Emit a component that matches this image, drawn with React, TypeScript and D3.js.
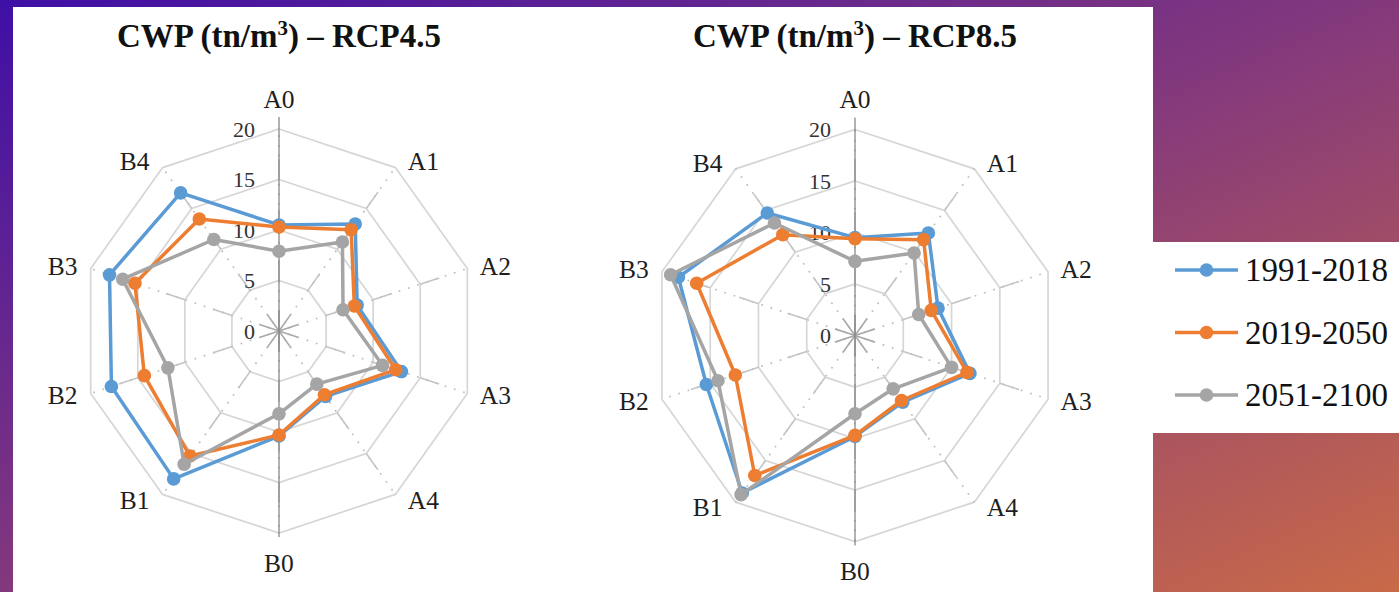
import React from "react";
import * as d3 from "d3";

const categories = ["A0", "A1", "A2", "A3", "A4", "B0", "B1", "B2", "B3", "B4"];
const seriesNames = ["1991-2018", "2019-2050", "2051-2100"];
const seriesColors = ["#5B9BD5", "#ED7D31", "#A5A5A5"];
const tickValues = [0, 5, 10, 15, 20];

const rcp45_1991 = [10.5, 13.1, 8.3, 13.0, 8.0, 10.4, 18.1, 17.8, 18.0, 16.9];
const rcp45_2019 = [10.3, 12.4, 8.0, 12.4, 7.8, 10.3, 15.3, 14.3, 15.3, 13.7];
const rcp45_2051 = [7.9, 10.9, 6.8, 11.0, 6.5, 8.2, 16.3, 11.8, 16.6, 11.2];

const rcp85_1991 = [9.5, 12.3, 8.6, 11.9, 8.0, 9.8, 18.9, 15.4, 18.3, 14.7];
const rcp85_2019 = [9.4, 11.5, 7.9, 11.6, 7.8, 9.7, 16.8, 12.4, 16.4, 12.1];
const rcp85_2051 = [7.2, 9.9, 6.6, 10.0, 6.4, 7.6, 19.1, 14.2, 19.1, 13.5];

const W = 1399;
const H = 592;
const FONT = "'Liberation Serif', 'Times New Roman', serif";

type Cfg = { cx: number; cy: number; rx: number; ry: number; title: string; data: number[][] };

function Radar({ cfg }: { cfg: Cfg }) {
  const { cx, cy, rx, ry } = cfg;
  const r = d3.scaleLinear().domain([0, 20]).range([0, 1]);
  const ang = d3.scaleLinear().domain([0, categories.length]).range([0, 2 * Math.PI]);
  const pt = (v: number, i: number): [number, number] => [
    cx + rx * r(v) * Math.sin(ang(i)),
    cy - ry * r(v) * Math.cos(ang(i)),
  ];
  const closed = d3.line().curve(d3.curveLinearClosed);
  const seg = d3.line();

  return (
    <g>
      <text x={cx} y={47} textAnchor="middle" fontFamily={FONT} fontWeight="bold" fontSize={33} fill="#111">
        CWP (tn/m
        <tspan fontSize={21} dy={-12}>3</tspan>
        <tspan dy={12}>) – {cfg.title}</tspan>
      </text>
      {tickValues.slice(1).map((t) => (
        <path
          key={"ring" + t}
          d={closed(categories.map((_, i) => pt(t, i))) || ""}
          fill="none"
          stroke="#d6d6d6"
          strokeWidth={1.7}
        />
      ))}
      {categories.map((_, i) => (
        <path
          key={"sp" + i}
          d={seg([pt(0, i), pt(20, i)]) || ""}
          stroke="#bdbdbd"
          strokeWidth={1.7}
          strokeDasharray="1.7 8"
          fill="none"
        />
      ))}
      {categories.map((_, i) =>
        tickValues.slice(0, 4).map((t) => (
          <path
            key={"ss" + i + "-" + t}
            d={seg([pt(t, i), pt(t + 2, i)]) || ""}
            stroke={t === 0 ? "#a8a8a8" : "#c4c4c4"}
            strokeWidth={1.6}
            fill="none"
          />
        ))
      )}
      <line x1={cx} x2={cx} y1={cy - ry - 12} y2={cy + ry + 4} stroke="#7f7f7f" strokeWidth={1.2} />
      {tickValues.map((t) => (
        <text
          key={"tl" + t}
          x={cx - 24}
          y={pt(t, 0)[1]}
          textAnchor="end"
          dominantBaseline="central"
          fontFamily={FONT}
          fontSize={22}
          fill="#333"
        >
          {t}
        </text>
      ))}
      {categories.map((c, i) => {
        const [vx, vy] = pt(20, i);
        const s = Math.sin(ang(i));
        const co = Math.cos(ang(i));
        const side = Math.abs(s) > 0.1;
        const x = side ? vx + Math.sign(s) * 28 : vx;
        const y = side ? vy - co * 7 : vy - co * 30;
        return (
          <text
            key={"cl" + c}
            x={x}
            y={y}
            textAnchor="middle"
            dominantBaseline="central"
            fontFamily={FONT}
            fontSize={25.5}
            fill="#1e1e1e"
          >
            {c}
          </text>
        );
      })}
      {cfg.data.map((vals, si) => (
        <g key={"s" + si}>
          <path
            d={closed(vals.map((v, i) => pt(v, i))) || ""}
            fill="none"
            stroke={seriesColors[si]}
            strokeWidth={3.5}
            strokeLinejoin="round"
          />
          {vals.map((v, i) => {
            const [x, y] = pt(v, i);
            return <circle key={i} cx={x} cy={y} r={6.8} fill={seriesColors[si]} />;
          })}
        </g>
      ))}
    </g>
  );
}

export default function App() {
  const charts: Cfg[] = [
    { cx: 279, cy: 331, rx: 198, ry: 202, title: "RCP4.5", data: [rcp45_1991, rcp45_2019, rcp45_2051] },
    { cx: 855, cy: 335.5, rx: 203, ry: 206, title: "RCP8.5", data: [rcp85_1991, rcp85_2019, rcp85_2051] },
  ];
  const legendY = d3.scalePoint<string>().domain(seriesNames).range([270, 395]);
  return (
    <svg width={W} height={H} style={{ position: "absolute", left: 0, top: 0 }}>
      <defs>
        <linearGradient id="bg" x1="0" y1="0" x2="1" y2="1">
          <stop offset="0" stopColor="#3f0fa6" />
          <stop offset="0.5" stopColor="#84397c" />
          <stop offset="1" stopColor="#c96a48" />
        </linearGradient>
      </defs>
      <rect x={0} y={0} width={W} height={H} fill="url(#bg)" />
      <rect x={13} y={7} width={1140} height={H - 7} fill="#ffffff" />
      <rect x={1153} y={242} width={W - 1153} height={191} fill="#ffffff" />
      {charts.map((c, i) => (
        <Radar key={i} cfg={c} />
      ))}
      {seriesNames.map((n, i) => {
        const y = legendY(n) as number;
        return (
          <g key={n}>
            <line x1={1175} x2={1238} y1={y} y2={y} stroke={seriesColors[i]} strokeWidth={3.5} />
            <circle cx={1206.5} cy={y} r={6.8} fill={seriesColors[i]} />
            <text x={1245} y={y} dominantBaseline="central" fontFamily={FONT} fontSize={33} fill="#111">
              {n}
            </text>
          </g>
        );
      })}
    </svg>
  );
}
